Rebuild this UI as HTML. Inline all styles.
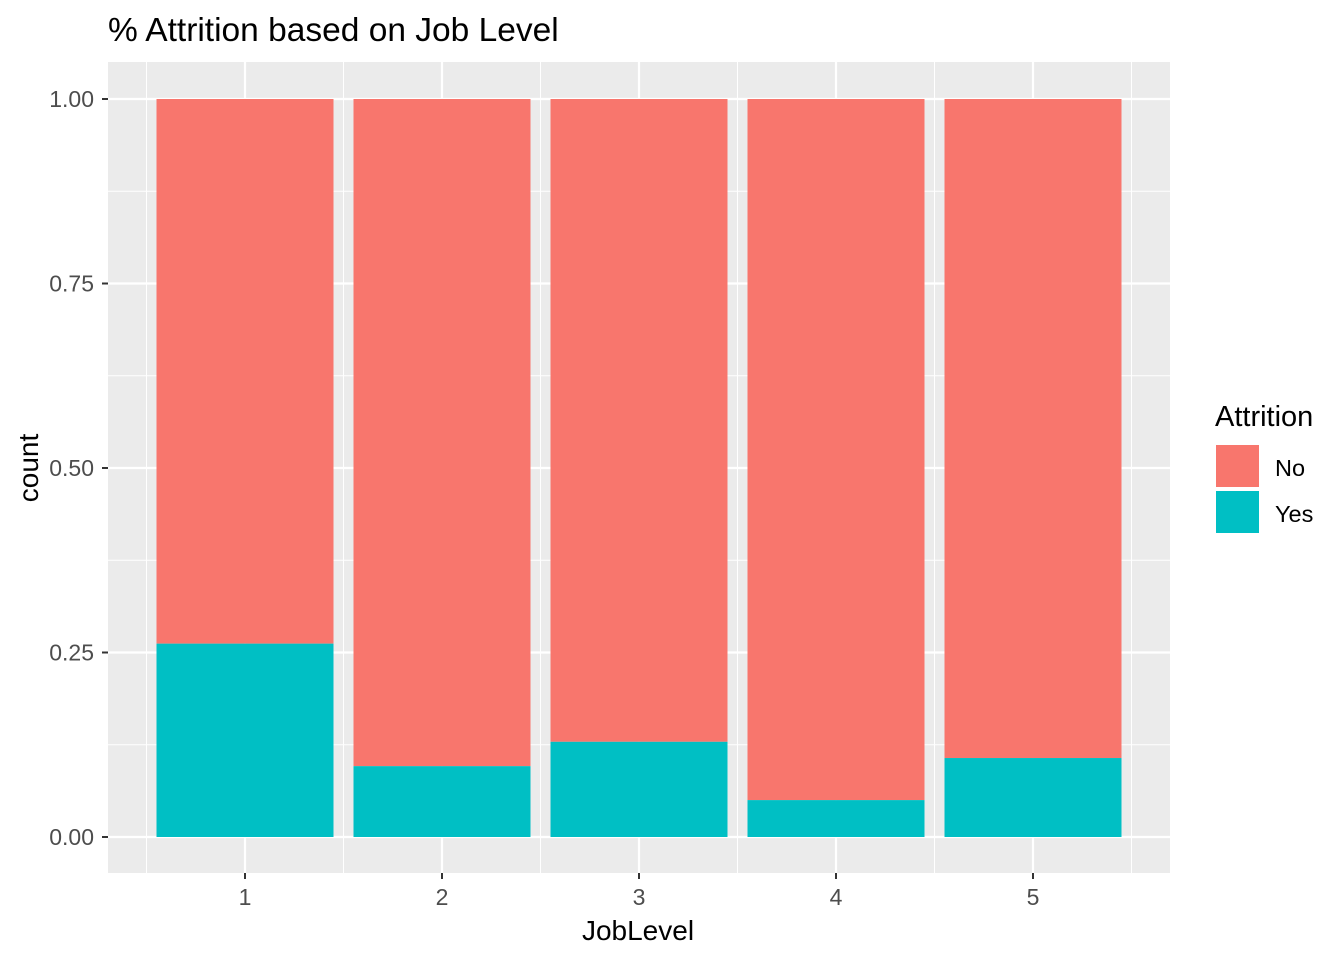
<!DOCTYPE html>
<html><head><meta charset="utf-8"><style>
body{margin:0;background:#fff;font-family:"Liberation Sans",Arial,sans-serif}
</style></head><body>
<svg id="c" width="1344" height="960" xmlns="http://www.w3.org/2000/svg">
<rect width="1344" height="960" fill="#fff"/>
<text x="108" y="41" font-size="33.5" fill="#000">% Attrition based on Job Level</text>
<rect x="108" y="62" width="1062" height="811" fill="#ebebeb"/>
<g id="grid"></g><g id="bars"></g><g id="axes"></g>
<text x="638" y="940" font-size="28" text-anchor="middle">JobLevel</text>
<text transform="translate(38,468) rotate(-90)" font-size="28" text-anchor="middle">count</text>
<g>
<text x="1215" y="426" font-size="29">Attrition</text>
<rect x="1216" y="445" width="43" height="42" fill="#f8766d"/>
<rect x="1216" y="491" width="43" height="42" fill="#00bfc4"/>
<text x="1275" y="476" font-size="23.5">No</text>
<text x="1275" y="522" font-size="23.5">Yes</text>
</g>
</svg>
<script>
const categories=["1","2","3","4","5"];
const yesShare=[0.262,0.096,0.129,0.05,0.107];
const yTicks=[0,0.25,0.5,0.75,1];
const yTickLabels=["0.00","0.25","0.50","0.75","1.00"];
const NS="http://www.w3.org/2000/svg";
const xs=i=>245+197*i;
const ys=v=>837-738*v;
function mk(tag,attrs,parent){const e=document.createElementNS(NS,tag);for(const k in attrs)e.setAttribute(k,attrs[k]);document.getElementById(parent).appendChild(e);return e;}
for(let i=0;i<yTicks.length-1;i++){const v=(yTicks[i]+yTicks[i+1])/2;
const l=mk('line',{x1:108,x2:1170,y1:ys(v),y2:ys(v),stroke:'#fff','stroke-width':1},'grid');

}
for(let i=0;i<=categories.length;i++){const x=xs(i-0.5);
const l=mk('line',{x1:x,x2:x,y1:62,y2:873,stroke:'#fff','stroke-width':1},'grid');

}
yTicks.forEach((v,i)=>{
const l=mk('line',{x1:108,x2:1170,y1:ys(v),y2:ys(v),stroke:'#fff','stroke-width':2.2},'grid');


const t=mk('line',{x1:102,x2:108,y1:ys(v),y2:ys(v),stroke:'#333','stroke-width':2},'axes');


const tx=mk('text',{x:94,y:ys(v)+8,'font-size':23,fill:'#4d4d4d','text-anchor':'end'},'axes');
tx.textContent=yTickLabels[i];

});
categories.forEach((c,i)=>{const x=xs(i);
const l=mk('line',{x1:x,x2:x,y1:62,y2:873,stroke:'#fff','stroke-width':2.2},'grid');


const no=mk('rect',{x:x-88.5,width:177,y:ys(1),height:ys(yesShare[i])-ys(1),fill:'#f8766d'},'bars');


const ye=mk('rect',{x:x-88.5,width:177,y:ys(yesShare[i]),height:ys(0)-ys(yesShare[i]),fill:'#00bfc4'},'bars');


const t=mk('line',{x1:x,x2:x,y1:873,y2:879,stroke:'#333','stroke-width':2},'axes');


const tx=mk('text',{x:x,y:905,'font-size':23,fill:'#4d4d4d','text-anchor':'middle'},'axes');
tx.textContent=c;

});
</script>
</body></html>
